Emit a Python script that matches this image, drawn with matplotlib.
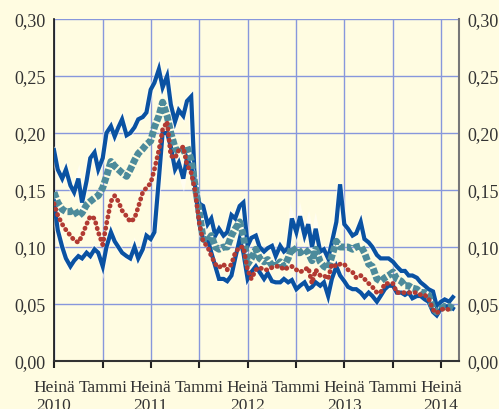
import matplotlib
matplotlib.use("Agg")
import matplotlib.pyplot as plt
import matplotlib.patheffects as pe
import pandas as pd
import numpy as np

# Semi-monthly observation dates (1st and 15th), Jul 2010 - Aug 2014
dates = pd.date_range("2010-07-01", periods=100, freq="SMS")

upper = [0.185, 0.168, 0.160, 0.168, 0.154, 0.148, 0.160, 0.139, 0.158, 0.178,
         0.183, 0.168, 0.178, 0.200, 0.206, 0.197, 0.205, 0.212, 0.198, 0.200,
         0.205, 0.212, 0.214, 0.218, 0.238, 0.244, 0.256, 0.240, 0.250, 0.225,
         0.210, 0.220, 0.215, 0.228, 0.232, 0.155, 0.138, 0.136, 0.120, 0.125,
         0.110, 0.116, 0.110, 0.113, 0.128, 0.125, 0.136, 0.139, 0.101, 0.108,
         0.110, 0.100, 0.096, 0.099, 0.101, 0.092, 0.101, 0.096, 0.099, 0.125,
         0.113, 0.127, 0.110, 0.120, 0.100, 0.116, 0.096, 0.098, 0.090, 0.104,
         0.122, 0.155, 0.120, 0.116, 0.110, 0.112, 0.122, 0.107, 0.104, 0.100,
         0.093, 0.090, 0.090, 0.090, 0.087, 0.083, 0.079, 0.079, 0.075, 0.075,
         0.073, 0.069, 0.066, 0.063, 0.061, 0.048, 0.052, 0.054, 0.052, 0.056]

lower = [0.140, 0.115, 0.100, 0.090, 0.083, 0.088, 0.092, 0.090, 0.095, 0.092,
         0.098, 0.095, 0.083, 0.100, 0.113, 0.105, 0.100, 0.095, 0.092, 0.090,
         0.100, 0.090, 0.098, 0.110, 0.107, 0.113, 0.160, 0.200, 0.200, 0.188,
         0.168, 0.174, 0.160, 0.178, 0.170, 0.154, 0.120, 0.107, 0.107, 0.095,
         0.083, 0.072, 0.072, 0.070, 0.075, 0.090, 0.107, 0.095, 0.072, 0.078,
         0.083, 0.078, 0.072, 0.077, 0.070, 0.069, 0.069, 0.072, 0.069, 0.071,
         0.063, 0.066, 0.069, 0.063, 0.065, 0.069, 0.066, 0.069, 0.057, 0.072,
         0.083, 0.075, 0.070, 0.065, 0.063, 0.063, 0.060, 0.056, 0.060, 0.057,
         0.052, 0.057, 0.063, 0.066, 0.066, 0.060, 0.060, 0.058, 0.060, 0.055,
         0.057, 0.057, 0.054, 0.052, 0.043, 0.040, 0.046, 0.048, 0.048, 0.046]

mean = [0.148, 0.139, 0.133, 0.131, 0.131, 0.133, 0.127, 0.130, 0.137, 0.140,
        0.143, 0.145, 0.152, 0.162, 0.175, 0.171, 0.168, 0.165, 0.162, 0.168,
        0.176, 0.182, 0.186, 0.190, 0.193, 0.205, 0.215, 0.227, 0.215, 0.200,
        0.187, 0.183, 0.185, 0.188, 0.176, 0.155, 0.130, 0.107, 0.105, 0.110,
        0.100, 0.098, 0.100, 0.100, 0.110, 0.116, 0.122, 0.110, 0.085, 0.090,
        0.098, 0.090, 0.087, 0.089, 0.084, 0.083, 0.087, 0.083, 0.090, 0.100,
        0.095, 0.095, 0.098, 0.095, 0.088, 0.098, 0.087, 0.083, 0.081, 0.092,
        0.105, 0.100, 0.100, 0.100, 0.098, 0.100, 0.101, 0.095, 0.085, 0.083,
        0.072, 0.070, 0.073, 0.075, 0.078, 0.072, 0.070, 0.066, 0.066, 0.064,
        0.063, 0.060, 0.060, 0.058, 0.046, 0.043, 0.046, 0.048, 0.048, 0.046]

median = [0.138, 0.128, 0.120, 0.115, 0.110, 0.106, 0.104, 0.110, 0.120, 0.127,
          0.125, 0.113, 0.102, 0.120, 0.140, 0.145, 0.140, 0.132, 0.127, 0.122,
          0.125, 0.135, 0.148, 0.152, 0.156, 0.168, 0.185, 0.203, 0.210, 0.180,
          0.178, 0.185, 0.188, 0.172, 0.165, 0.150, 0.120, 0.105, 0.100, 0.092,
          0.085, 0.082, 0.085, 0.080, 0.085, 0.095, 0.100, 0.100, 0.080, 0.072,
          0.080, 0.082, 0.080, 0.080, 0.082, 0.083, 0.083, 0.080, 0.082, 0.083,
          0.080, 0.078, 0.080, 0.082, 0.068, 0.080, 0.075, 0.075, 0.072, 0.085,
          0.083, 0.085, 0.085, 0.080, 0.078, 0.073, 0.075, 0.072, 0.068, 0.065,
          0.060, 0.060, 0.068, 0.068, 0.068, 0.060, 0.060, 0.060, 0.060, 0.060,
          0.060, 0.058, 0.058, 0.055, 0.045, 0.042, 0.045, 0.046, 0.045, 0.044]

tick_dates = pd.to_datetime(["2010-07-01", "2011-01-01", "2011-07-01", "2012-01-01",
                             "2012-07-01", "2013-01-01", "2013-07-01", "2014-01-01",
                             "2014-07-01"])
tick_labels = ["Heinä\n2010", "Tammi", "Heinä\n2011", "Tammi", "Heinä\n2012",
               "Tammi", "Heinä\n2013", "Tammi", "Heinä\n2014"]
y_ticks = [0.00, 0.05, 0.10, 0.15, 0.20, 0.25, 0.30]
y_labels = ["0,00", "0,05", "0,10", "0,15", "0,20", "0,25", "0,30"]

BG = "#fffce1"
BLUE = "#0a52a2"
TEAL = "#4d8b9b"
RED = "#b23a32"
GRID = "#8797dc"

plt.rcParams["font.family"] = ["Liberation Serif", "DejaVu Serif"]

fig = plt.figure(figsize=(4.99, 4.10), dpi=100, facecolor=BG)
ax = fig.add_axes([54 / 499, 1 - 362 / 410, (459 - 54) / 499, (362 - 20) / 410])
ax.set_facecolor(BG)

halo = [pe.Stroke(linewidth=4.6, foreground="white", alpha=0.5), pe.Normal()]
ax.plot(dates, upper, color=BLUE, lw=3.0, zorder=3, path_effects=halo,
        solid_joinstyle="miter")
ax.plot(dates, lower, color=BLUE, lw=3.0, zorder=3, path_effects=halo,
        solid_joinstyle="miter")
ax.plot(dates, mean, color=TEAL, lw=5.0, linestyle=(0, (0.9, 0.3)),
        dash_capstyle="butt", zorder=4)
ax.plot(dates, median, color=RED, lw=3.4, linestyle=(0, (0.1, 1.1)),
        dash_capstyle="round", zorder=5)

ax.set_ylim(0, 0.30)
ax.set_xlim(pd.Timestamp("2010-07-01"), pd.Timestamp("2014-09-07"))
ax.set_yticks(y_ticks)
ax.set_yticklabels(y_labels)
ax.set_xticks(tick_dates)
ax.set_xticklabels(tick_labels, linespacing=1.2)

ax.grid(True, color=GRID, lw=1.0, zorder=1)
ax.set_axisbelow(True)

ax.tick_params(axis="y", which="both", length=0, labelsize=13, colors="#333333",
               pad=6, left=True, right=True, labelleft=True, labelright=True)
ax.tick_params(axis="x", length=5, width=1.5, direction="out", color="#222222",
               labelsize=12.5, labelcolor="#333333", pad=8)

ax.spines["top"].set_visible(False)
ax.spines["left"].set_color("#111111")
ax.spines["left"].set_linewidth(1.2)
ax.spines["bottom"].set_color("#333333")
ax.spines["bottom"].set_linewidth(1.5)
ax.spines["right"].set_color("#777777")
ax.spines["right"].set_linewidth(1.5)

fig.savefig("out.png", dpi=100, facecolor=BG)
